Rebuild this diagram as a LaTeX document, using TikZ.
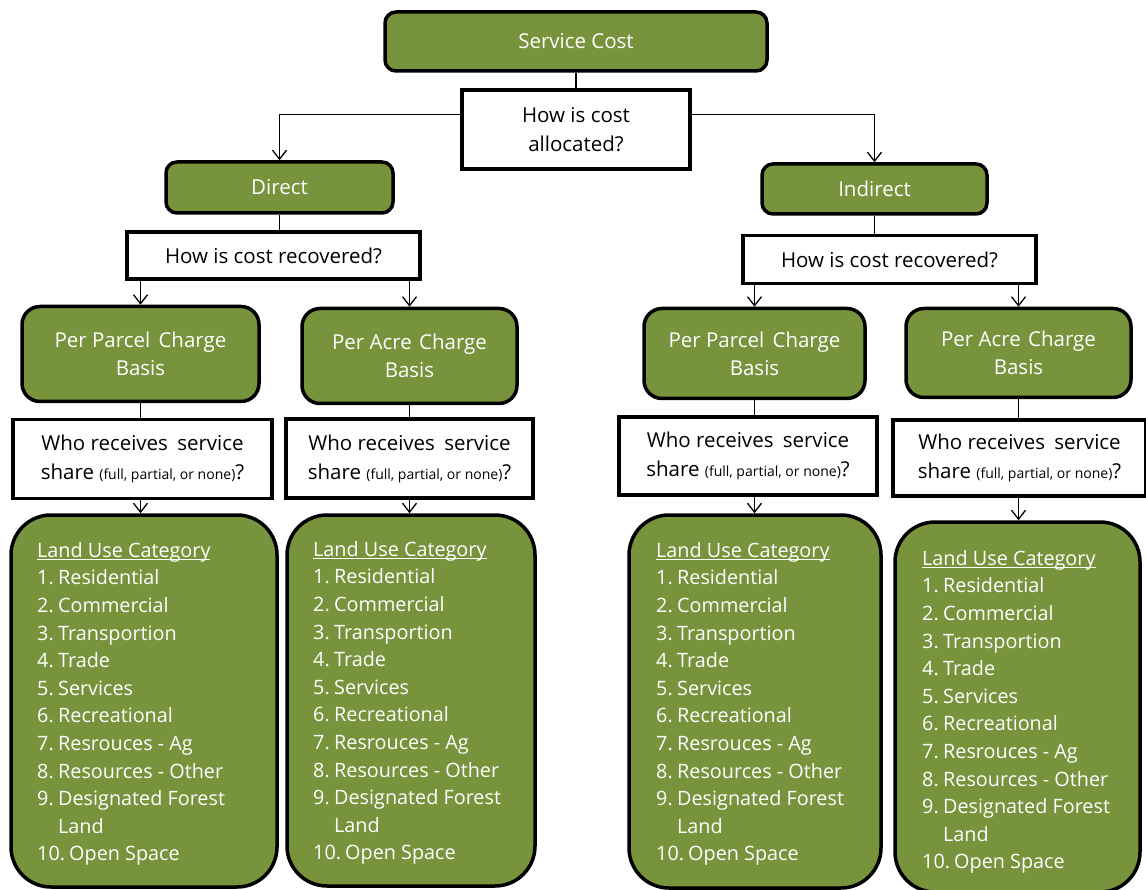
\documentclass[tikz,border=0pt]{standalone}
\usepackage{fontspec}
\setmainfont{Open Sans}
\usetikzlibrary{arrows.meta,calc}
\definecolor{olive}{RGB}{119,147,60}
\newcommand\myul[1]{\setbox0\hbox{#1}\rlap{\rule[-3pt]{\wd0}{1.1pt}}\box0}
\newcommand\nm[1]{\makebox[21pt][l]{#1}}
\newcommand\landlist{\myul{Land Use Category}\\\nm{1.}Residential\\\nm{2.}Commercial\\\nm{3.}Transportion\\\nm{4.}Trade\\\nm{5.}Services\\\nm{6.}Recreational\\\nm{7.}Resrouces - Ag\\\nm{8.}Resources - Other\\\nm{9.}Designated Forest\\\hspace*{21pt}Land\\\makebox[32pt][l]{10.}Open Space}
\newcommand\whotext{Who receives\hspace{4pt} service\\share {\fontsize{14}{16}\selectfont(full, partial, or none)}?}
\tikzset{
  gbox/.style={draw=black, line width=3.5pt, fill=olive, rounded corners=11pt, text=white, align=center, inner sep=0pt, font=\fontsize{20.5}{28}\selectfont},
  qbox/.style={draw=black, line width=3.5pt, fill=white, align=center, inner sep=0pt, font=\fontsize{20.5}{29}\selectfont},
  landbox/.style={draw=black, line width=3.5pt, fill=olive, rounded corners=40pt, inner sep=0pt},
  landtext/.style={text=white, align=left, inner sep=0pt, anchor=north west, font=\fontsize{19.8}{27.6}\selectfont},
  conn/.style={line width=1.3pt},
  arr/.style={conn, -{Straight Barb[length=9pt,width=14pt,line width=1.3pt]}},
}
\begin{document}
\begin{tikzpicture}[x=1pt,y=-1pt]
\useasboundingbox (0,0) rectangle (1146,890);
% top
\node[gbox, minimum width=382, minimum height=59] (svc) at (576,41.5) {Service Cost};
\node[qbox, minimum width=228, minimum height=79] (alloc) at (576,129.5) {How is cost\\allocated?};
\node[gbox, minimum width=227, minimum height=51] (direct) at (279.5,187.5) {Direct};
\node[gbox, minimum width=225, minimum height=50] (indirect) at (874.5,189) {Indirect};
\node[qbox, minimum width=293, minimum height=47] (recL) at (273.5,255.5) {How is cost recovered?};
\node[qbox, minimum width=293, minimum height=48] (recR) at (889.5,259.5) {How is cost recovered?};
% charge basis
\node[gbox, rounded corners=18pt, minimum width=237, minimum height=95] (ppL) at (140.5,354) {Per Parcel\hspace{3pt} Charge\\Basis};
\node[gbox, rounded corners=18pt, minimum width=215, minimum height=95] (paL) at (409.5,356) {Per Acre\hspace{2pt} Charge\\Basis};
\node[gbox, rounded corners=18pt, minimum width=221, minimum height=90] (ppR) at (754.5,353.5) {Per Parcel\hspace{3pt} Charge\\Basis};
\node[gbox, rounded corners=18pt, minimum width=225, minimum height=89] (paR) at (1018.5,353) {Per Acre\hspace{2pt} Charge\\Basis};
% who
\node[qbox, minimum width=259, minimum height=79] (whoL1) at (142.5,459) {\whotext};
\node[qbox, minimum width=247, minimum height=79] (whoL2) at (409.5,458.5) {\whotext};
\node[qbox, minimum width=258, minimum height=78] (whoR1) at (748,456) {\whotext};
\node[qbox, minimum width=253, minimum height=76] (whoR2) at (1019.5,458) {\whotext};
% land
\node[landbox, minimum width=266, minimum height=372] (landL1) at (144,701) {};
\node[landbox, minimum width=248, minimum height=371] (landL2) at (411,700.5) {};
\node[landbox, minimum width=252, minimum height=373] (landR1) at (755,701.5) {};
\node[landbox, minimum width=245, minimum height=370] (landR2) at (1017.5,707) {};
\node[landtext] (tL1) at (37,542) {\landlist};
\node[landtext] (tL2) at (313,541) {\landlist};
\node[landtext] (tR1) at (656,542) {\landlist};
\node[landtext] (tR2) at (922,550) {\landlist};
% connectors
\draw[conn] (svc.south) -- (alloc.north);
\coordinate (aw) at ($(alloc.north west)!0.32!(alloc.south west)$);
\coordinate (ae) at ($(alloc.north east)!0.32!(alloc.south east)$);
\draw[arr] (aw) -| (direct.north);
\draw[arr] (ae) -| (indirect.north);
\draw[conn] (direct.south) -- (direct.south |- recL.north);
\draw[conn] (indirect.south) -- (indirect.south |- recR.north);
\draw[arr] (recL.south -| ppL.north) -- (ppL.north);
\draw[arr] (recL.south -| paL.north) -- (paL.north);
\draw[arr] (recR.south -| ppR.north) -- (ppR.north);
\draw[arr] (recR.south -| paR.north) -- (paR.north);
\draw[conn] (ppL.south) -- (ppL.south |- whoL1.north);
\draw[conn] (paL.south) -- (paL.south |- whoL2.north);
\draw[conn] (ppR.south) -- (ppR.south |- whoR1.north);
\draw[conn] (paR.south) -- (paR.south |- whoR2.north);
\draw[arr] (ppL.south |- whoL1.south) -- (ppL.south |- landL1.north);
\draw[arr] (paL.south |- whoL2.south) -- (paL.south |- landL2.north);
\draw[arr] (ppR.south |- whoR1.south) -- (ppR.south |- landR1.north);
\draw[arr] (paR.south |- whoR2.south) -- (paR.south |- landR2.north);
\end{tikzpicture}
\end{document}
